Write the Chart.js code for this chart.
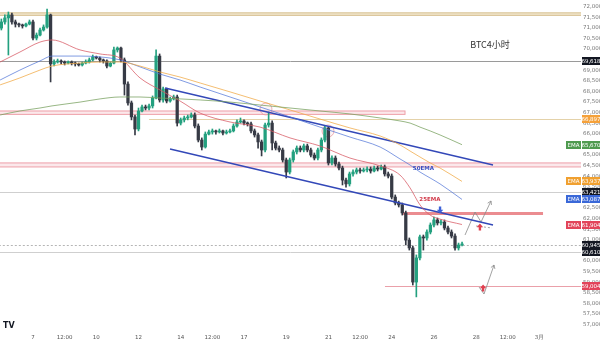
<!DOCTYPE html>
<html><head><meta charset="utf-8">
<style>html,body{margin:0;padding:0;background:#fff;}#c{display:block;}</style>
<script src="https://cdn.jsdelivr.net/npm/chart.js"></script>
</head><body>
<canvas id="c" width="600" height="340"></canvas>
<script>
// ---------- DATA ----------
const xTickDays = [7, 8.5, 10, 12, 14, 15.5, 17, 19, 21, 22.5, 24, 26, 28, 29.5, 31];
const xTickLabels = ['7','12:00','10','12','14','12:00','17','19','21','12:00','24','26','28','12:00','3月'];
const yTickValues = [57000,57500,58000,58500,59000,59500,60000,60500,61000,61500,62000,62500,63000,63500,64000,64500,65000,65500,66000,66500,67000,67500,68000,68500,69000,69500,70000,70500,71000,71500,72000];

const firstBarDay = 5.5;      // first 4h bar open (day of month)
const barStepDays = 1/6;      // 4 hours

const opens = [71170,71460,71650,71790,71460,71360,71320,71270,71360,71460,
 70700,70840,71080,71220,71790,69480,69570,69620,69570,69520,
 69570,69520,69480,69430,69520,69570,69670,69810,69760,69670,
 69620,69380,69520,70140,70230,69670,68530,67640,66980,66410,
 67260,67450,67400,67500,67870,69850,67780,68300,67730,67830,
 67920,66690,66840,66930,66980,67070,66550,65890,65560,66170,
 66270,66320,66270,66320,66220,66270,66320,66550,66740,66790,
 66690,66650,66320,66130,65800,65420,66600,66690,65750,65510,
 65420,64950,64380,64950,65330,65510,65420,65610,65420,65180,
 65040,65420,65890,66460,64810,65040,64760,64570,64000,63820,
 64290,64380,64480,64430,64480,64520,64430,64570,64520,64620,
 64290,64190,63200,62920,62830,62450,61170,60800,59190,60330,
 61320,61270,61550,61880,62120,61980,62020,61740,61550,61360,
 60800,60940];
const highs = [71600,71790,71930,71880,71550,71410,71360,71410,71550,71550,
 70940,71170,71320,72070,71830,69670,69710,69670,69620,69620,
 69620,69570,69520,69570,69670,69760,69900,69850,69810,69710,
 69670,69570,70280,70280,70280,69760,68630,67730,67070,67400,
 67540,67540,67590,67970,70140,69950,68390,68340,67920,68010,
 68010,66930,67020,67070,67170,67170,66650,65990,66270,66360,
 66410,66360,66410,66360,66360,66410,66650,66840,66930,66840,
 66740,66740,66410,66220,65890,66690,67210,66790,65840,65610,
 65510,65040,65040,65420,65610,65610,65700,65700,65510,65280,
 65510,65990,66550,66500,65140,65140,64850,64660,64100,64380,
 64480,64570,64570,64570,64620,64620,64660,64660,64710,64710,
 64380,64290,63300,63010,62920,62540,61270,60890,60470,61410,
 61410,61650,61980,62260,62210,62120,62120,61830,61650,61460,
 61030,61080];
const lows = [71080,71360,69900,71360,71220,71220,71170,71220,71320,70610,
 70610,70800,71030,71170,68630,69380,69520,69480,69430,69480,
 69430,69380,69380,69380,69480,69520,69620,69710,69570,69520,
 69290,69340,69480,70040,69570,68010,67540,66840,66130,66320,
 67210,67310,67310,67400,67830,67680,67680,67640,67680,67780,
 66550,66600,66740,66840,66930,66460,65800,65420,65510,66130,
 66170,66170,66220,66130,66170,66220,66270,66500,66690,66600,
 66550,66220,66030,65510,65140,65330,66500,65420,65420,65330,
 64850,64100,64290,64850,65230,65330,65330,65330,65090,64950,
 64950,65330,65800,64710,64710,64660,64480,63770,63670,63720,
 64190,64290,64330,64380,64380,64330,64380,64430,64480,64190,
 64100,63110,62830,62730,62350,60940,60700,59050,58490,60230,
 60700,61170,61460,61790,61880,61880,61650,61460,61270,60700,
 60700,60890];
const closes = [71460,71650,71790,71460,71360,71320,71270,71360,71460,70700,
 70840,71080,71220,71790,69480,69570,69620,69570,69520,69570,
 69520,69480,69430,69520,69570,69670,69810,69760,69670,69620,
 69380,69520,70140,70230,69670,68530,67640,66980,66410,67260,
 67450,67400,67500,67870,69850,67780,68300,67730,67830,67920,
 66690,66840,66930,66980,67070,66550,65890,65560,66170,66270,
 66320,66270,66320,66220,66270,66320,66550,66740,66790,66690,
 66650,66320,66130,65800,65420,66600,66690,65750,65510,65420,
 64950,64380,64950,65330,65510,65420,65610,65420,65180,65040,
 65420,65890,66460,64810,65040,64760,64570,64000,63820,64290,
 64380,64480,64430,64480,64520,64430,64570,64520,64620,64290,
 64190,63200,62920,62830,62450,61170,60800,59190,60330,61320,
 61270,61550,61880,62120,61980,62020,61740,61550,61360,60800,
 60940,60945];

const emaDays = [5.44,6.38,7.33,7.90,9.23,10.18,11.12,12.07,13.02,13.97,14.92,16.34,17.76,19.18,20.60,22.02,23.45,24.39,24.87,25.34,25.82,26.29,27.33];
const emaRed    = [69570,70040,70510,70610,70140,69950,69760,68820,68250,67730,67160,66740,66500,65990,65610,65040,64670,64240,63630,62830,62350,62160,61904];
const emaBlue   = [68720,69190,69620,69850,69850,69810,69670,69340,69000,68720,68390,67920,67450,66980,66500,66030,65560,65000,64710,64380,64100,63820,63087];
const emaOrange = [68490,68820,69190,69380,69520,69570,69570,69380,69100,68860,68580,68160,67730,67310,66880,66460,66080,65660,65370,65090,64810,64570,63937];
const emaGreen  = [67070,67260,67400,67500,67680,67830,67920,67920,67870,67830,67780,67680,67540,67400,67260,67120,66930,66790,66690,66500,66320,66130,65670];

const upperTrendDays = [13.256, 28.801];
const upperTrendPrices = [68344, 64712];
const lowerTrendDays = [13.493, 28.801];
const lowerTrendPrices = [65467, 61882];
const zig1Days = [27.474, 27.948, 28.232, 28.706];
const zig1Prices = [61410, 62495, 62023, 63014];
const zig2Days = [28.137, 28.374, 28.848];
const zig2Prices = [58958, 58627, 59995];
const dashDays = [27.995, 28.753];
const dashPrices = [61835, 61740];

const zoneLow  = [71770, 67100, 64620];
const zoneHigh = [71890, 67260, 64810];
const zoneFrom = [5.0, 5.0, 5.0];
const zoneTo   = [34, 24.63, 34];

const levelPrices = [69618, 66897, 63421, 62450, 60945, 60610, 59004];
const levelFrom   = [5.0, 12.5, 5.0, 24.49, 5.0, 5.0, 23.68];
const levelTo     = [34, 34, 34, 31.17, 34, 34, 34];

const circleDays = [18.04, 20.98];
const circlePrices = [67354, 66316];
const blueArrowDays = [26.29];
const blueArrowPrices = [62589];
const redArrowDays = [28.18, 28.33];
const redArrowPrices = [61787, 58910];

const textLabels = ['BTC4小时', '50EMA', '25EMA'];
const textDays = [28.66, 25.5, 25.81];
const textPrices = [70373, 64523, 63060];

const axisLabelValues = [69618, 66897, 65670, 63937, 63421, 63087, 61904, 60945, 60610, 59004];
const axisLabelEma = [false, false, true, true, false, true, true, false, false, false];

// ---------- STYLES ----------
const UP = '#23a07f', DOWN = '#363a45';
const zoneStyles = [
  {fill:'rgba(236,220,185,0.75)', stroke:'rgba(214,190,140,0.95)'},
  {fill:'rgba(250,222,226,0.7)', stroke:'rgba(236,150,160,0.9)'},
  {fill:'rgba(250,222,226,0.7)', stroke:'rgba(236,150,160,0.9)'}
];
const levelStyles = [
  {c:'#9a9a9a', w:1, d:[]},
  {c:'rgba(225,205,160,0.9)', w:1, d:[]},
  {c:'#cfcfcf', w:1, d:[]},
  {c:'rgba(232,120,125,0.85)', w:3, d:[]},
  {c:'#b5b5b5', w:1, d:[2,2]},
  {c:'#cfcfcf', w:1, d:[]},
  {c:'rgba(232,150,160,0.9)', w:1, d:[]}
];
const axisLabelColors = ['#131722','#f5a13a','#4f9a4f','#f0a030','#131722','#3a68d8','#e2445a','#131722','#131722','#e2445a'];
const textStyles = [
  {font:'9px "Noto Sans CJK SC", "Noto Sans", sans-serif', color:'#333'},
  {font:'bold 5.5px "DejaVu Sans", sans-serif', color:'#3a50c0'},
  {font:'bold 5.5px "DejaVu Sans", sans-serif', color:'#d23a4a'}
];

const xMin = 5.436, xMax = 32.97, yMin = 56929, yMax = 72495;
const barX = closes.map((c, i) => firstBarDay + i * barStepDays);
const isUp = i => closes[i] >= opens[i];
const pts = (ds, vs) => ds.map((d, i) => ({x: d, y: vs[i]}));

function arrowHead(ctx, x1, y1, x2, y2, s) {
  const a = Math.atan2(y2 - y1, x2 - x1);
  ctx.beginPath();
  ctx.moveTo(x2 - s*Math.cos(a-0.55), y2 - s*Math.sin(a-0.55));
  ctx.lineTo(x2, y2);
  ctx.lineTo(x2 - s*Math.cos(a+0.55), y2 - s*Math.sin(a+0.55));
  ctx.stroke();
}
function blockArrow(ctx, x, y, dir, color) {
  ctx.fillStyle = color;
  ctx.beginPath();
  const tip = y + dir*3.5, base = y - dir*0.2, tail = y - dir*3.5;
  ctx.moveTo(x, tip);
  ctx.lineTo(x - 3.2, base);
  ctx.lineTo(x - 1.2, base);
  ctx.lineTo(x - 1.2, tail);
  ctx.lineTo(x + 1.2, tail);
  ctx.lineTo(x + 1.2, base);
  ctx.lineTo(x + 3.2, base);
  ctx.closePath();
  ctx.fill();
}

const overlay = {
  id: 'overlay',
  beforeDatasetsDraw(chart) {
    const {ctx, chartArea: a, scales: {x, y}} = chart;
    ctx.save();
    ctx.beginPath(); ctx.rect(a.left, a.top, a.right - a.left, a.bottom - a.top); ctx.clip();
    zoneLow.forEach((lo, i) => {
      const x1 = x.getPixelForValue(zoneFrom[i]), x2 = x.getPixelForValue(zoneTo[i]);
      const y1 = y.getPixelForValue(zoneHigh[i]), y2 = y.getPixelForValue(lo);
      ctx.fillStyle = zoneStyles[i].fill;
      ctx.fillRect(x1, y1, x2 - x1, y2 - y1);
      ctx.strokeStyle = zoneStyles[i].stroke; ctx.lineWidth = 1;
      ctx.strokeRect(x1, y1, x2 - x1, y2 - y1);
    });
    levelPrices.forEach((p, i) => {
      const st = levelStyles[i];
      const yy = Math.round(y.getPixelForValue(p)) + (st.w % 2 ? 0.5 : 0);
      ctx.strokeStyle = st.c; ctx.lineWidth = st.w; ctx.setLineDash(st.d);
      ctx.beginPath();
      ctx.moveTo(x.getPixelForValue(levelFrom[i]), yy);
      ctx.lineTo(x.getPixelForValue(levelTo[i]), yy);
      ctx.stroke();
    });
    ctx.setLineDash([]);
    circleDays.forEach((d, i) => {
      ctx.beginPath();
      ctx.arc(x.getPixelForValue(d), y.getPixelForValue(circlePrices[i]), 6, 0, Math.PI*2);
      ctx.fillStyle = 'rgba(250,225,228,0.35)'; ctx.fill();
      ctx.strokeStyle = 'rgba(230,140,150,0.85)'; ctx.lineWidth = 0.8; ctx.stroke();
    });
    ctx.restore();
  },
  afterDatasetsDraw(chart) {
    const {ctx, scales: {x, y}} = chart;
    ctx.save();
    ctx.strokeStyle = '#8a8a8a'; ctx.lineWidth = 0.8;
    let n = zig1Days.length;
    arrowHead(ctx, x.getPixelForValue(zig1Days[n-2]), y.getPixelForValue(zig1Prices[n-2]),
      x.getPixelForValue(zig1Days[n-1]), y.getPixelForValue(zig1Prices[n-1]), 4);
    n = zig2Days.length;
    arrowHead(ctx, x.getPixelForValue(zig2Days[n-2]), y.getPixelForValue(zig2Prices[n-2]),
      x.getPixelForValue(zig2Days[n-1]), y.getPixelForValue(zig2Prices[n-1]), 4);
    blueArrowDays.forEach((d, i) => blockArrow(ctx, x.getPixelForValue(d), y.getPixelForValue(blueArrowPrices[i]), 1, '#3d62d8'));
    redArrowDays.forEach((d, i) => blockArrow(ctx, x.getPixelForValue(d), y.getPixelForValue(redArrowPrices[i]), -1, '#e0404f'));
    ctx.textAlign = 'center'; ctx.textBaseline = 'middle';
    textLabels.forEach((t, i) => {
      ctx.font = textStyles[i].font; ctx.fillStyle = textStyles[i].color;
      ctx.fillText(t, x.getPixelForValue(textDays[i]), y.getPixelForValue(textPrices[i]));
    });
    ctx.restore();
  },
  afterDraw(chart) {
    const {ctx, chartArea: a, scales: {y}} = chart;
    ctx.save();
    ctx.textBaseline = 'middle'; ctx.textAlign = 'center';
    ctx.font = '5.5px "DejaVu Sans", sans-serif';
    axisLabelValues.forEach((v, i) => {
      const yy = Math.round(y.getPixelForValue(v));
      ctx.fillStyle = axisLabelColors[i];
      ctx.fillRect(a.right + 1, yy - 4, 600 - a.right - 1, 8);
      ctx.fillStyle = '#fff';
      ctx.fillText(v.toLocaleString('en-US'), (a.right + 601) / 2, yy + 0.5);
      if (axisLabelEma[i]) {
        ctx.fillStyle = axisLabelColors[i];
        ctx.fillRect(a.right - 15, yy - 4, 15, 8);
        ctx.fillStyle = '#fff';
        ctx.fillText('EMA', a.right - 7.5, yy + 0.5);
      }
    });
    ctx.font = 'bold 8px "DejaVu Sans", sans-serif';
    ctx.fillStyle = '#131722'; ctx.textAlign = 'left';
    ctx.fillText('TV', 3, 326);
    ctx.restore();
  }
};

const lineDs = (data, color, w, extra) => Object.assign({
  type: 'line', data, borderColor: color, borderWidth: w, pointRadius: 0,
  fill: false, order: 1, tension: 0
}, extra || {});

new Chart(document.getElementById('c'), {
  type: 'bar',
  data: {
    datasets: [
      lineDs(pts(emaDays, emaGreen), 'rgba(120,160,95,0.85)', 0.9, {cubicInterpolationMode:'monotone'}),
      lineDs(pts(emaDays, emaOrange), 'rgba(240,170,70,0.85)', 0.9, {cubicInterpolationMode:'monotone'}),
      lineDs(pts(emaDays, emaBlue), 'rgba(80,115,215,0.8)', 0.9, {cubicInterpolationMode:'monotone'}),
      lineDs(pts(emaDays, emaRed), 'rgba(215,90,100,0.85)', 0.9, {cubicInterpolationMode:'monotone'}),
      lineDs(pts(upperTrendDays, upperTrendPrices), '#3348b8', 1.4),
      lineDs(pts(lowerTrendDays, lowerTrendPrices), '#3348b8', 1.4),
      lineDs(pts(zig1Days, zig1Prices), '#8a8a8a', 0.8),
      lineDs(pts(zig2Days, zig2Prices), '#8a8a8a', 0.8),
      lineDs(pts(dashDays, dashPrices), '#8a8a8a', 0.8, {borderDash:[2,2]}),
      {
        type: 'bar',
        data: barX.map((d, i) => ({x: d, y: [lows[i], highs[i]]})),
        backgroundColor: c => isUp(c.dataIndex) ? UP : DOWN,
        barThickness: 1, grouped: false, order: 10, borderWidth: 0
      },
      {
        type: 'bar',
        data: barX.map((d, i) => ({x: d, y: [opens[i], closes[i]]})),
        backgroundColor: c => isUp(c.dataIndex) ? UP : DOWN,
        barThickness: 2.6, grouped: false, order: 9, borderWidth: 0, minBarLength: 1
      }
    ]
  },
  options: {
    responsive: false, animation: false, devicePixelRatio: 1,
    layout: {padding: 0},
    plugins: {legend: {display: false}, tooltip: {enabled: false}},
    scales: {
      x: {
        type: 'linear', min: xMin, max: xMax, offset: false,
        grid: {display: false, drawTicks: false}, border: {display: false},
        afterFit: s => { s.height = 10; s.paddingLeft = 0; s.paddingRight = 0; },
        afterBuildTicks: s => { s.ticks = xTickDays.map(v => ({value: v})); },
        ticks: {
          autoSkip: false, maxRotation: 0, padding: 4,
          font: {size: 5.5, family: '"DejaVu Sans", sans-serif'}, color: '#555',
          callback: (v, i) => xTickLabels[i]
        }
      },
      y: {
        type: 'linear', position: 'right', min: yMin, max: yMax,
        grid: {display: false, drawTicks: false}, border: {display: false},
        afterFit: s => { s.width = 19; s.paddingTop = 0; s.paddingBottom = 0; },
        afterBuildTicks: s => { s.ticks = yTickValues.map(v => ({value: v})); },
        ticks: {
          autoSkip: false, padding: 2, labelOffset: -4,
          font: {size: 5.5, family: '"DejaVu Sans", sans-serif'}, color: '#777',
          callback: v => Number(v).toLocaleString('en-US')
        }
      }
    }
  },
  plugins: [overlay]
});
</script>
</body></html>
